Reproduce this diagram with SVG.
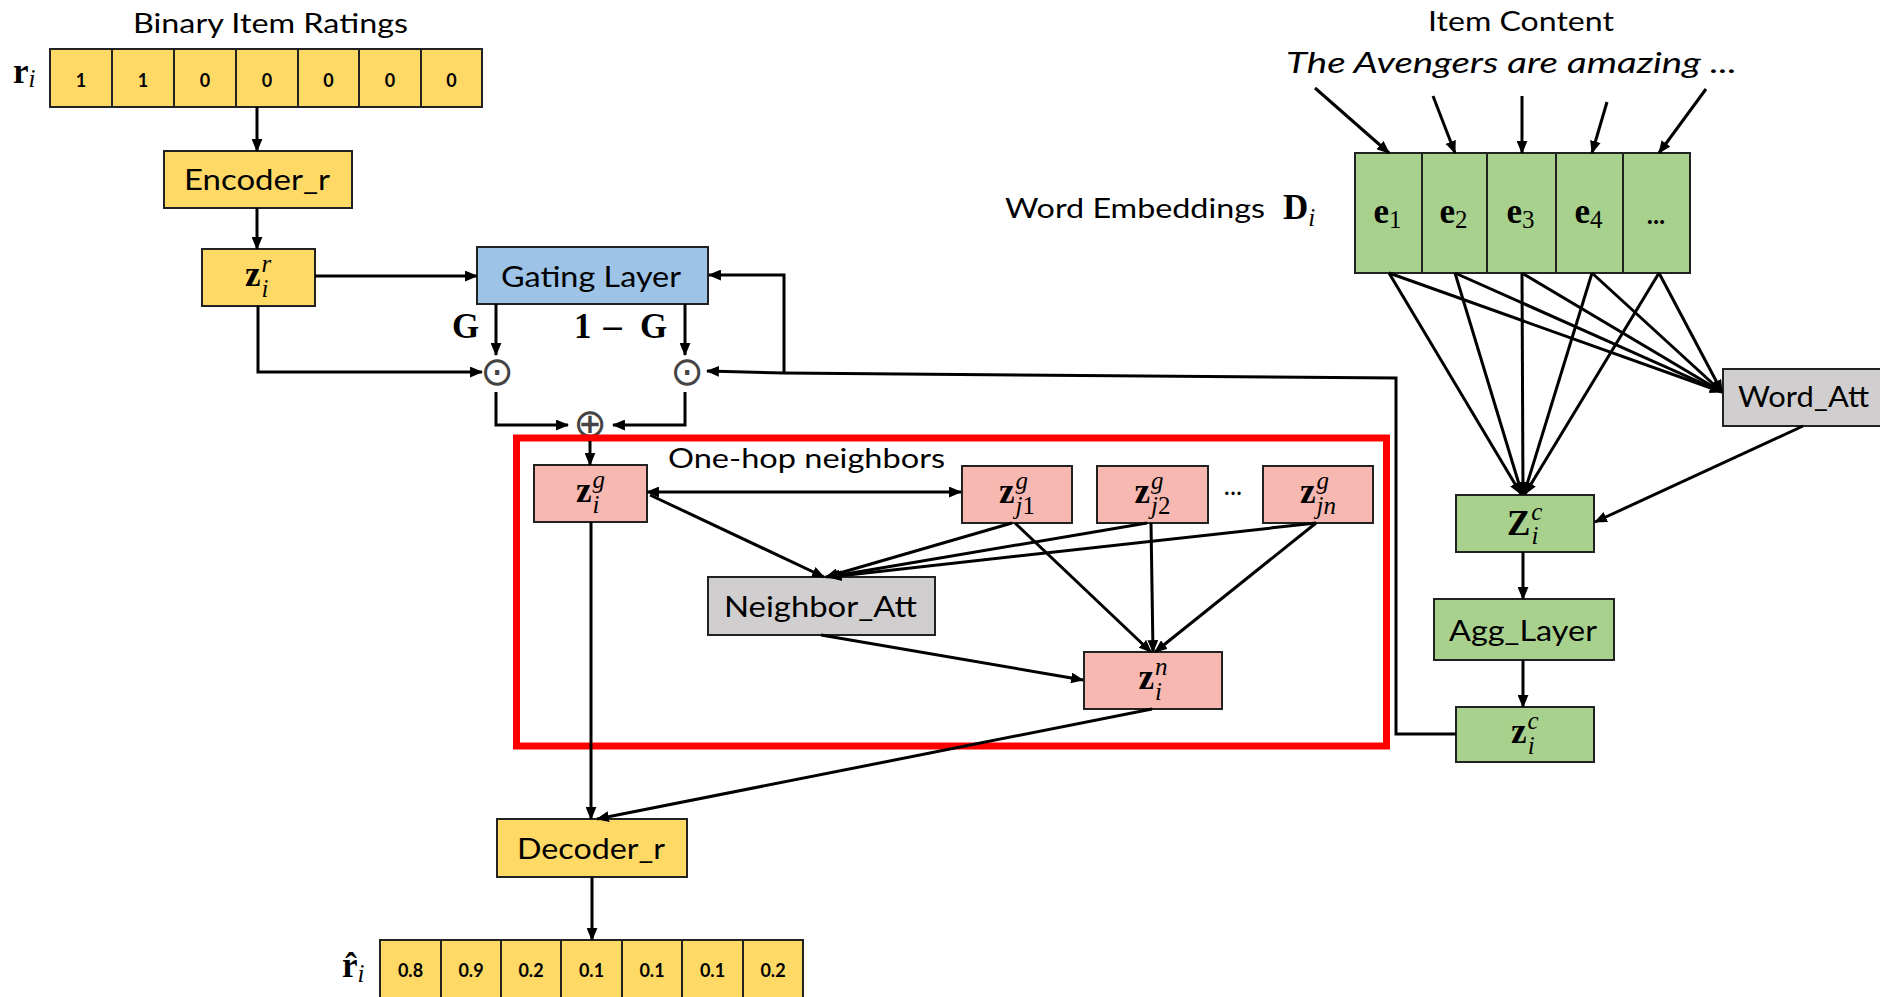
<svg xmlns="http://www.w3.org/2000/svg" width="1880" height="997" viewBox="0 0 1880 997">
<style>
.bx{stroke:#222;stroke-width:2}
.yl{fill:#FFD966}.pk{fill:#F8B8B2}.bl{fill:#9DC3E6}.gr{fill:#A9D18E}.gy{fill:#D0CECE}
.lb{font-family:Lato,"Liberation Sans",sans-serif;font-size:29px;fill:#000;text-anchor:middle}
.hd{font-family:Lato,"Liberation Sans",sans-serif;font-size:27px;fill:#000}
.num{font-family:Lato,"Liberation Sans",sans-serif;font-weight:bold;font-size:18px;fill:#000;text-anchor:middle}
.mt{font-family:"Liberation Serif",serif;fill:#000}
.mz{font-family:"Liberation Serif",serif;font-weight:bold;font-size:35px;font-style:normal}
.ms{font-family:"Liberation Serif",serif;font-style:italic;font-weight:normal;font-size:25px}
.mr{font-family:"Liberation Serif",serif;font-style:normal;font-weight:normal;font-size:25px}
.sym{font-family:"DejaVu Sans",sans-serif;font-size:40px;fill:#444;text-anchor:middle}
.ln{stroke:#000;stroke-width:3;fill:none}
.ar{marker-end:url(#ah)}
</style>
<defs>
<marker id="ah" viewBox="0 0 12 10" refX="11" refY="5" markerWidth="13" markerHeight="11" markerUnits="userSpaceOnUse" orient="auto-start-reverse">
<path d="M0,0 L12,5 L0,10 z" fill="#000"/>
</marker>
</defs>
<rect width="1880" height="997" fill="#fff"/>

<g id="titles">
<text class="hd" x="270.5" y="33" text-anchor="middle" textLength="275" lengthAdjust="spacingAndGlyphs">Binary Item Ratings</text>
<text class="hd" x="1521" y="31" text-anchor="middle" textLength="186" lengthAdjust="spacingAndGlyphs">Item Content</text>
<text x="1286" y="73" font-family="Lato,'Liberation Sans',sans-serif" font-style="italic" font-size="28" textLength="451" lengthAdjust="spacingAndGlyphs">The Avengers are amazing ...</text>
<text class="hd" x="1005" y="218" textLength="260" lengthAdjust="spacingAndGlyphs">Word Embeddings</text>
<text class="mt" x="1283" y="219"><tspan class="mz" font-size="37">D</tspan><tspan class="ms" dy="7" font-size="23">i</tspan></text>
<text class="hd" x="668" y="468" textLength="277" lengthAdjust="spacingAndGlyphs">One-hop neighbors</text>
</g>

<g id="ratings">
<text class="mt" x="13" y="83"><tspan class="mz" font-size="28">r</tspan><tspan class="ms" dy="4" font-size="20">i</tspan></text>
<rect class="bx yl" x="50" y="49" width="432" height="58"/>
<path d="M112,49V107M174,49V107M236,49V107M298,49V107M359,49V107M421,49V107" stroke="#222" stroke-width="2"/>
<text class="num" x="81" y="87">1</text><text class="num" x="143" y="87">1</text><text class="num" x="205" y="87">0</text><text class="num" x="267" y="87">0</text><text class="num" x="328.5" y="87">0</text><text class="num" x="390" y="87">0</text><text class="num" x="451.5" y="87">0</text>
</g>

<g id="encoder"><rect class="bx yl" x="164" y="151" width="188" height="57"/><text class="lb" x="257" y="190" font-size="30" textLength="146" lengthAdjust="spacingAndGlyphs">Encoder_r</text></g>

<g id="zir"><rect class="bx yl" x="202" y="249" width="113" height="57"/>
<text class="mt" x="245" y="285.5"><tspan class="mz">z</tspan><tspan class="ms" dx="1" dy="-14">r</tspan><tspan class="ms" dx="-9.7" dy="25">i</tspan></text></g>

<g id="gating"><rect class="bx bl" x="477" y="247" width="231" height="57"/><text class="lb" x="591" y="287" textLength="180" lengthAdjust="spacingAndGlyphs">Gating Layer</text></g>

<g id="gate-labels">
<text class="mt" x="452" y="338"><tspan class="mz" font-size="34">G</tspan></text>
<text class="mt" x="574" y="338"><tspan class="mz" font-size="34">1</tspan><tspan x="600" font-family="'DejaVu Serif',serif" font-size="30">−</tspan><tspan x="640" class="mz" font-size="34">G</tspan></text>
</g>

<g id="odot-left"><text class="sym" x="497" y="385">⊙</text></g>
<g id="odot-right"><text class="sym" x="687" y="385">⊙</text></g>
<g id="oplus"><text class="sym" x="590" y="437" font-size="32">⊕</text></g>

<g id="hop-box"><rect x="516.5" y="438" width="870" height="308" fill="none" stroke="#FF0000" stroke-width="7"/></g>

<g id="zig"><rect class="bx pk" x="534" y="465" width="113" height="57"/>
<text class="mt" x="576" y="501.5"><tspan class="mz">z</tspan><tspan class="ms" dx="1" dy="-14">g</tspan><tspan class="ms" dx="-12.5" dy="25">i</tspan></text></g>

<g id="zj1"><rect class="bx pk" x="962" y="466" width="110" height="57"/>
<text class="mt" x="999" y="502.5"><tspan class="mz">z</tspan><tspan class="ms" dx="1" dy="-14">g</tspan><tspan class="ms" dx="-12.5" dy="25">j</tspan><tspan class="mr">1</tspan></text></g>

<g id="zj2"><rect class="bx pk" x="1097" y="466" width="111" height="57"/>
<text class="mt" x="1134.5" y="502.5"><tspan class="mz">z</tspan><tspan class="ms" dx="1" dy="-14">g</tspan><tspan class="ms" dx="-12.5" dy="25">j</tspan><tspan class="mr">2</tspan></text></g>

<g id="dots-mid"><text x="1233" y="495" font-family="Lato,sans-serif" font-size="26" text-anchor="middle">...</text></g>

<g id="zjn"><rect class="bx pk" x="1263" y="466" width="110" height="57"/>
<text class="mt" x="1300" y="502.5"><tspan class="mz">z</tspan><tspan class="ms" dx="1" dy="-14">g</tspan><tspan class="ms" dx="-12.5" dy="25">jn</tspan></text></g>

<g id="natt"><rect class="bx gy" x="708" y="577" width="227" height="58"/><text class="lb" x="820.5" y="617" textLength="193" lengthAdjust="spacingAndGlyphs">Neighbor_Att</text></g>

<g id="zin"><rect class="bx pk" x="1084" y="652" width="138" height="57"/>
<text class="mt" x="1138.5" y="688.5"><tspan class="mz">z</tspan><tspan class="ms" dx="1" dy="-14">n</tspan><tspan class="ms" dx="-12.5" dy="25">i</tspan></text></g>

<g id="decoder"><rect class="bx yl" x="497" y="819" width="190" height="58"/><text class="lb" x="591" y="859" font-size="30" textLength="148" lengthAdjust="spacingAndGlyphs">Decoder_r</text></g>

<g id="output">
<text class="mt" x="342" y="977"><tspan class="mz" font-size="28">r&#x302;</tspan><tspan class="ms" dy="5" font-size="20">i</tspan></text>
<rect class="bx yl" x="380" y="940" width="423" height="64"/>
<path d="M441,940V1000M501,940V1000M561,940V1000M622,940V1000M682,940V1000M743,940V1000" stroke="#222" stroke-width="2"/>
<text class="num" x="410.5" y="977" font-size="19">0.8</text><text class="num" x="471" y="977" font-size="19">0.9</text><text class="num" x="531" y="977" font-size="19">0.2</text><text class="num" x="591.5" y="977" font-size="19">0.1</text><text class="num" x="652" y="977" font-size="19">0.1</text><text class="num" x="712.5" y="977" font-size="19">0.1</text><text class="num" x="773" y="977" font-size="19">0.2</text>
</g>

<g id="embeddings">
<rect class="bx gr" x="1355" y="153" width="335" height="120"/>
<path d="M1422,153V273M1487,153V273M1556,153V273M1623,153V273" stroke="#222" stroke-width="2"/>
<text class="mt" x="1373.5" y="223"><tspan class="mz" font-size="40">e</tspan><tspan class="mr" dy="5">1</tspan></text>
<text class="mt" x="1439.5" y="223"><tspan class="mz" font-size="40">e</tspan><tspan class="mr" dy="5">2</tspan></text>
<text class="mt" x="1506.5" y="223"><tspan class="mz" font-size="40">e</tspan><tspan class="mr" dy="5">3</tspan></text>
<text class="mt" x="1574.5" y="223"><tspan class="mz" font-size="40">e</tspan><tspan class="mr" dy="5">4</tspan></text>
<text x="1656" y="224" font-family="Lato,sans-serif" font-weight="bold" font-size="26" text-anchor="middle">...</text>
</g>

<g id="wordatt"><rect class="bx gy" x="1723" y="369" width="170" height="57"/><text class="lb" x="1803.5" y="407" textLength="131" lengthAdjust="spacingAndGlyphs">Word_Att</text></g>

<g id="zc-big"><rect class="bx gr" x="1456" y="495" width="138" height="57"/>
<text class="mt" x="1507" y="535"><tspan class="mz">Z</tspan><tspan class="ms" dx="1" dy="-15">c</tspan><tspan class="ms" dx="-11" dy="24">i</tspan></text></g>

<g id="agg"><rect class="bx gr" x="1434" y="599" width="180" height="61"/><text class="lb" x="1523" y="641" textLength="148" lengthAdjust="spacingAndGlyphs">Agg_Layer</text></g>

<g id="zc"><rect class="bx gr" x="1456" y="707" width="138" height="55"/>
<text class="mt" x="1511" y="742.5"><tspan class="mz">z</tspan><tspan class="ms" dx="1" dy="-14">c</tspan><tspan class="ms" dx="-11" dy="25">i</tspan></text></g>

<g id="connectors">
<path class="ln ar" d="M257,107V151"/>
<path class="ln ar" d="M257,208V249"/>
<path class="ln ar" d="M315,276H477"/>
<path class="ln ar" d="M258,306V372H482"/>
<path class="ln ar" d="M496,304V355"/>
<path class="ln ar" d="M685,304V355"/>
<path class="ln ar" d="M496,392V425H568"/>
<path class="ln ar" d="M685,392V425H613"/>
<path class="ln ar" d="M590,441V465"/>
<path class="ln ar" d="M1456,734H1396V378L784,373L707,371"/>
<path class="ln ar" d="M784,373V275H709"/>
<path class="ln ar" d="M647,492H961" style="marker-start:url(#ah)"/>
<path class="ln ar" d="M650,495L824,577"/>
<path class="ln ar" d="M1012,523L826,577"/>
<path class="ln ar" d="M1147,523L828,577"/>
<path class="ln ar" d="M1316,523L830,577"/>
<path class="ln ar" d="M1015,523L1151,652"/>
<path class="ln ar" d="M1151,523L1153,652"/>
<path class="ln ar" d="M1316,523L1155,652"/>
<path class="ln ar" d="M821,635L1083,680"/>
<path class="ln ar" d="M591,522V819"/>
<path class="ln ar" d="M1152,709L597,819"/>
<path class="ln ar" d="M592,877V940"/>
<path class="ln ar" d="M1315,88L1389,153"/>
<path class="ln ar" d="M1433,96L1455,153"/>
<path class="ln ar" d="M1522,96V153"/>
<path class="ln ar" d="M1607,102L1592,153"/>
<path class="ln ar" d="M1706,89L1659,153"/>
<path class="ln ar" d="M1389,273L1521,494"/>
<path class="ln ar" d="M1455,273L1522,494"/>
<path class="ln ar" d="M1522,273L1523,494"/>
<path class="ln ar" d="M1592,273L1524,494"/>
<path class="ln ar" d="M1659,273L1525,494"/>
<path class="ln ar" d="M1389,273L1722,392"/>
<path class="ln ar" d="M1455,273L1722,392"/>
<path class="ln ar" d="M1522,273L1722,392"/>
<path class="ln ar" d="M1592,273L1722,392"/>
<path class="ln ar" d="M1659,273L1722,392"/>
<path class="ln ar" d="M1803,426L1595,522"/>
<path class="ln ar" d="M1523,552V599"/>
<path class="ln ar" d="M1523,660V707"/>
</g>
</svg>
